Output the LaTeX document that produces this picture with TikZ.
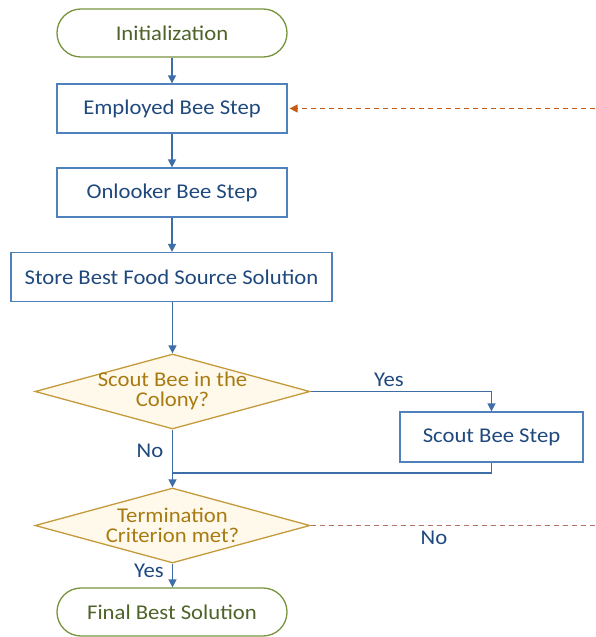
\documentclass[tikz,border=0pt]{standalone}
\usepackage{fontspec}
\setmainfont{Carlito}[FakeStretch=1.08]
\usetikzlibrary{shapes.geometric,arrows.meta}
\definecolor{gborder}{HTML}{77933C}
\definecolor{gtext}{HTML}{4F6228}
\definecolor{bborder}{HTML}{4F81BD}
\definecolor{btext}{HTML}{1F497D}
\definecolor{bline}{HTML}{3E6DA8}
\definecolor{dfill}{HTML}{FFF9EC}
\definecolor{dborder}{HTML}{C49A3A}
\definecolor{dtext}{HTML}{A87B12}
\definecolor{orng}{HTML}{C55A11}
\definecolor{rdash}{HTML}{B5736A}
\tikzset{
  x=1pt, y=-1pt,
  every node/.style={font=\fontsize{21}{20}\selectfont},
  term/.style={draw=gborder, line width=1.3pt, rounded corners=23.9pt, minimum width=230pt, minimum height=48pt, text=gtext, inner sep=0},
  proc/.style={draw=bborder, line width=1.3pt, minimum height=49pt, text=btext, inner sep=0},
  dia/.style={diamond, draw=dborder, fill=dfill, line width=1.3pt, minimum width=275pt, minimum height=75pt, inner sep=0},
  dtxt/.style={text=dtext, align=center, inner sep=0},
  lbl/.style={text=btext, inner sep=0},
  flow/.style={draw=bline, line width=1.5pt, -{Triangle[length=8pt,width=8pt]}},
  plain/.style={draw=bline, line width=1.5pt},
}
\begin{document}
\begin{tikzpicture}
\useasboundingbox (0,0) rectangle (595,637);
\node[term] (init) at (172,33) {Initialization};
\node[proc, minimum width=230pt] (emp) at (172,108.5) {Employed Bee Step};
\node[proc, minimum width=230pt] (onl) at (172,192.5) {Onlooker Bee Step};
\node[proc, minimum width=321pt] (store) at (171.5,277) {Store Best Food Source Solution};
\node[dia] (d1) at (172.5,391.5) {};
\node[dtxt] (d1t) at (172.5,391) {Scout Bee in the\\Colony?};
\node[proc, minimum width=183pt, minimum height=50pt] (scout) at (491.5,437) {Scout Bee Step};
\node[dia] (d2) at (172.5,525.5) {};
\node[dtxt] (d2t) at (172.5,525) {Termination\\Criterion met?};
\node[term] (final) at (172,612) {Final Best Solution};
\coordinate (merge) at (172.5,473);
\coordinate (r1) at (595,108.5);
\coordinate (r2) at (595,525.5);

\draw[flow] (init) -- (emp);
\draw[flow] (emp) -- (onl);
\draw[flow] (onl) -- (store.north -| onl);
\draw[flow] (store.south -| d1) -- (d1.north);
\draw[flow] (d1.east) -| (scout.north);
\draw[plain] (scout.south) |- (merge);
\draw[flow] (d1.south) -- (d2.north);
\draw[flow] (d2.south) -- (final.north -| d2);
\draw[orng, line width=1.4pt, dash pattern=on 5pt off 4pt, -{Triangle[length=8pt,width=8pt]}] (r1) -- ([xshift=2pt]emp.east);
\draw[rdash, line width=1.4pt, dash pattern=on 5pt off 4pt] (d2.east) -- (r2);

\node[lbl] (yes1) at (389,380) {Yes};
\node[lbl] (no1) at (150,451) {No};
\node[lbl] (no2) at (434,538) {No};
\node[lbl] (yes2) at (149,571) {Yes};
\end{tikzpicture}
\end{document}
